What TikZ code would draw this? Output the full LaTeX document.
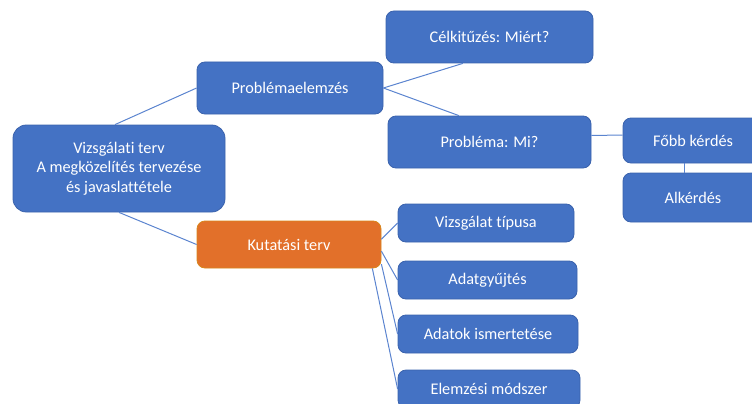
\documentclass[tikz,border=0pt]{standalone}
\usepackage{fontspec}
\setmainfont[Ligatures={NoCommon}]{Carlito}
\definecolor{boxblue}{HTML}{4472C4}
\definecolor{boxedge}{HTML}{3A62AC}
\definecolor{boxorange}{HTML}{E2702A}
\definecolor{orangeedge}{HTML}{D8861C}
\definecolor{linkblue}{HTML}{5B84CF}
\tikzset{
  box/.style={draw=boxedge, line width=0.6pt, fill=boxblue, rounded corners=6pt,
    text=white, font=\fontsize{12.2}{14.6}\selectfont, align=center, inner sep=0pt},
  hotbox/.style={box, fill=boxorange, draw=orangeedge},
  link/.style={draw=linkblue, line width=0.75pt}
}
\begin{document}
\begin{tikzpicture}[x=0.75pt,y=-0.75pt]
\useasboundingbox (0,0) rectangle (752,403);
\node[box, rounded corners=10pt, minimum width=159pt, minimum height=65.25pt] (root) at (119,168.5)
  {Vizsgálati terv\\A megközelítés tervezése\\és javaslattétele};
\node[box, minimum width=139.5pt, minimum height=39pt] (pe) at (290,88) {Problémaelemzés};
\node[hotbox, minimum width=138pt, minimum height=35.25pt] (kt) at (289,244.5) {Kutatási terv};
\node[box, minimum width=155.25pt, minimum height=39pt] (ck) at (489.5,37) {Célkitűzés: Miért?};
\node[box, minimum width=152.25pt, minimum height=39pt] (pm) at (489.5,142) {Probléma: Mi?};
\node[box, minimum width=105pt, minimum height=33.75pt] (fk) at (693,140.5) {Főbb kérdés};
\node[box, minimum width=105pt, minimum height=36.75pt] (ak) at (693,197.5) {Alkérdés};
\node[box, minimum width=132pt, minimum height=28.5pt] (vt) at (486,223) {Vizsgálat típusa};
\node[box, minimum width=134.25pt, minimum height=28.5pt] (ag) at (487.5,280) {Adatgyűjtés};
\node[box, minimum width=135pt, minimum height=28.5pt] (ai) at (488,334) {Adatok ismertetése};
\node[box, minimum width=136.5pt, minimum height=28.5pt] (em) at (489,389) {Elemzési módszer};

\draw[link] ([xshift=-3pt]root.north) -- (pe.west);
\draw[link] (root.south) -- (kt.west);
\draw[link] (pe.east) -- ([xshift=-20pt]ck.south);
\draw[link] (pe.east) -- ([xshift=-23pt]pm.north);
\draw[link] ([yshift=5pt]pm.east) -- ([yshift=4pt]fk.west);
\draw[link] ([xshift=-6.75pt]fk.south) -- ([xshift=-6.75pt]ak.north);
\draw[link] ([yshift=4pt]kt.east) -- (vt.west);
\draw[link] ([yshift=-5pt]kt.east) -- (ag.west);
\draw[link] (kt.-12) -- (ai.west);
\draw[link] (kt.-16) -- (em.west);
\end{tikzpicture}
\end{document}
